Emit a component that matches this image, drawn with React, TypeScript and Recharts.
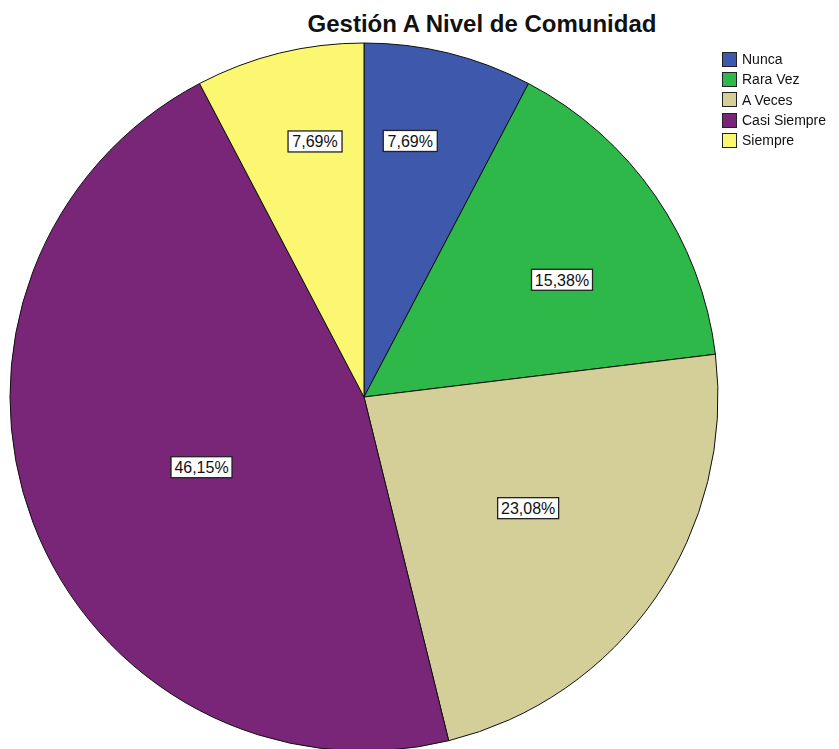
import { PieChart, Pie, Cell, Legend } from 'recharts';

const categories = ['Nunca', 'Rara Vez', 'A Veces', 'Casi Siempre', 'Siempre'];
const percents = [7.69, 15.38, 23.08, 46.15, 7.69];

const COLORS = ['#3e58ac', '#2fb84a', '#d4ce98', '#792679', '#fbf770'];
// label placement per slice (SPSS-style): distance as fraction of radius, angle nudge in degrees
const LABEL_RATIO = [0.735, 0.65, 0.56, 0.5, 0.735];
const LABEL_NUDGE = [3.6, -4, 0.5, 2.6, -3];

const data = categories.map((name, i) => ({ name, value: percents[i] }));

const FONT = '"Liberation Sans", Arial, sans-serif';
const RAD = Math.PI / 180;

function renderLabel(props: any) {
  const { cx, cy, midAngle, outerRadius, index, value } = props;
  const r = outerRadius * LABEL_RATIO[index];
  const a = (midAngle + LABEL_NUDGE[index]) * RAD;
  const x = cx + r * Math.cos(-a);
  const y = cy + r * Math.sin(-a);
  const text = value.toFixed(2).replace('.', ',') + '%';
  const w = text.length * 7 + 19;
  return (
    <g>
      <rect x={x - w / 2} y={y - 10.5} width={w} height={21} fill="#fff" stroke="#222" strokeWidth={1.3} />
      <text x={x} y={y + 6} textAnchor="middle" fontFamily={FONT} fontSize={16} fill="#111">
        {text}
      </text>
    </g>
  );
}

function LegendBox() {
  return (
    <div style={{ fontFamily: FONT, fontSize: 14, color: '#111' }}>
      {categories.map((c, i) => (
        <div key={c} style={{ display: 'flex', alignItems: 'center', height: 20.3 }}>
          <span
            style={{
              display: 'inline-block',
              width: 13,
              height: 13,
              background: COLORS[i],
              border: '1px solid #222',
              marginRight: 5,
            }}
          />
          {c}
        </div>
      ))}
    </div>
  );
}

export default function App() {
  return (
    <div style={{ position: 'fixed', top: 0, left: 0, width: 839, height: 749, background: '#fff' }}>
      <div
        style={{
          position: 'absolute',
          top: 10,
          left: 482,
          transform: 'translateX(-50%)',
          fontFamily: FONT,
          fontWeight: 'bold',
          fontSize: 24,
          whiteSpace: 'nowrap',
          color: '#111',
        }}
      >
        Gestión A Nivel de Comunidad
      </div>
      <PieChart width={839} height={749} margin={{ top: 0, right: 0, bottom: 0, left: 0 }}>
        <Pie
          data={data}
          dataKey="value"
          nameKey="name"
          cx={364}
          cy={397}
          outerRadius={354}
          startAngle={90}
          endAngle={-270}
          stroke="#111"
          strokeWidth={1}
          label={renderLabel}
          labelLine={false}
          isAnimationActive={false}
        >
          {data.map((_, i) => (
            <Cell key={i} fill={COLORS[i]} />
          ))}
        </Pie>
        <Legend
          content={<LegendBox />}
          wrapperStyle={{ position: 'absolute', top: 49, left: 722, width: 120 }}
        />
      </PieChart>
    </div>
  );
}
